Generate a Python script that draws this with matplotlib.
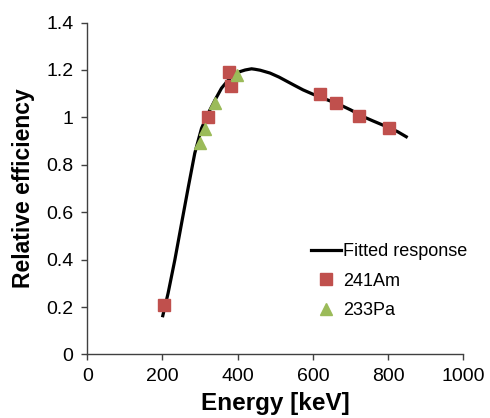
import matplotlib
matplotlib.use("Agg")
import matplotlib.pyplot as plt
from matplotlib.lines import Line2D

plt.rcParams["font.family"] = ["Liberation Sans", "DejaVu Sans"]

# ---- data ----------------------------------------------------------------
fit_energy = [200, 215, 233, 251, 269, 286, 304, 322, 340, 357, 370, 380,
              393, 406, 420, 437, 446, 460, 486, 510, 530, 550, 574, 600,
              619, 650, 672, 700, 734, 760, 796, 825, 852]
fit_eff    = [0.157, 0.258, 0.399, 0.554, 0.708, 0.849, 0.954, 1.018, 1.074,
              1.123, 1.148, 1.165, 1.182, 1.193, 1.200, 1.205, 1.203, 1.199,
              1.187, 1.170, 1.153, 1.136, 1.116, 1.098, 1.086, 1.067, 1.053,
              1.032, 1.003, 0.985, 0.961, 0.940, 0.915]

am_energy = [205, 322, 376, 382, 619, 662, 722, 802]
am_eff    = [0.207, 1.000, 1.193, 1.134, 1.098, 1.061, 1.004, 0.956]

pa_energy = [299, 312, 340, 397]
pa_eff    = [0.89, 0.95, 1.06, 1.18]

xticks = [0, 200, 400, 600, 800, 1000]
yticks = [0, 0.2, 0.4, 0.6, 0.8, 1, 1.2, 1.4]
ytick_labels = ["0", "0.2", "0.4", "0.6", "0.8", "1", "1.2", "1.4"]

RED = "#C0504D"
GREEN = "#9BBB59"
AXIS = "#404040"

fig = plt.figure(figsize=(4.9, 4.18), dpi=100)
ax = fig.add_axes([0.178, 0.152, 0.7675, 0.794])

ax.plot(fit_energy, fit_eff, color="black", linewidth=2.3, zorder=2,
        solid_capstyle="butt", solid_joinstyle="round")
ax.plot(am_energy, am_eff, linestyle="none", marker="s", markersize=8.5,
        markerfacecolor=RED, markeredgecolor=RED, zorder=3)
ax.plot(pa_energy, pa_eff, linestyle="none", marker="^", markersize=9,
        markerfacecolor=GREEN, markeredgecolor=GREEN, zorder=3)

ax.set_xlim(0, 1000)
ax.set_ylim(0, 1.4)
ax.set_xticks(xticks)
ax.set_yticks(yticks)
ax.set_yticklabels(ytick_labels)
for s in ("top", "right"):
    ax.spines[s].set_visible(False)
for s in ("left", "bottom"):
    ax.spines[s].set_color(AXIS)
    ax.spines[s].set_linewidth(1.0)
ax.tick_params(direction="out", length=4, width=1.0, color=AXIS,
               labelsize=14)
ax.tick_params(axis="x", pad=6)
ax.tick_params(axis="y", pad=6)

ax.set_xlabel("Energy [keV]", fontsize=17.5, fontweight="bold", labelpad=5)
ax.set_ylabel("Relative efficiency", fontsize=16.5, fontweight="bold",
              labelpad=8)

handles = [
    Line2D([0], [0], color="black", linewidth=2.3, label="Fitted response"),
    Line2D([0], [0], marker="s", markersize=8, linestyle="none",
           markerfacecolor=RED, markeredgecolor=RED, label="241Am"),
    Line2D([0], [0], marker="^", markersize=8.5, linestyle="none",
           markerfacecolor=GREEN, markeredgecolor=GREEN, label="233Pa"),
]
ax.legend(handles=handles, loc="upper left", bbox_to_anchor=(0.595, 0.336),
          frameon=False, fontsize=13, handlelength=1.65, handletextpad=0.15,
          labelspacing=0.7, borderaxespad=0, borderpad=0)

fig.savefig("out.png", dpi=100)
